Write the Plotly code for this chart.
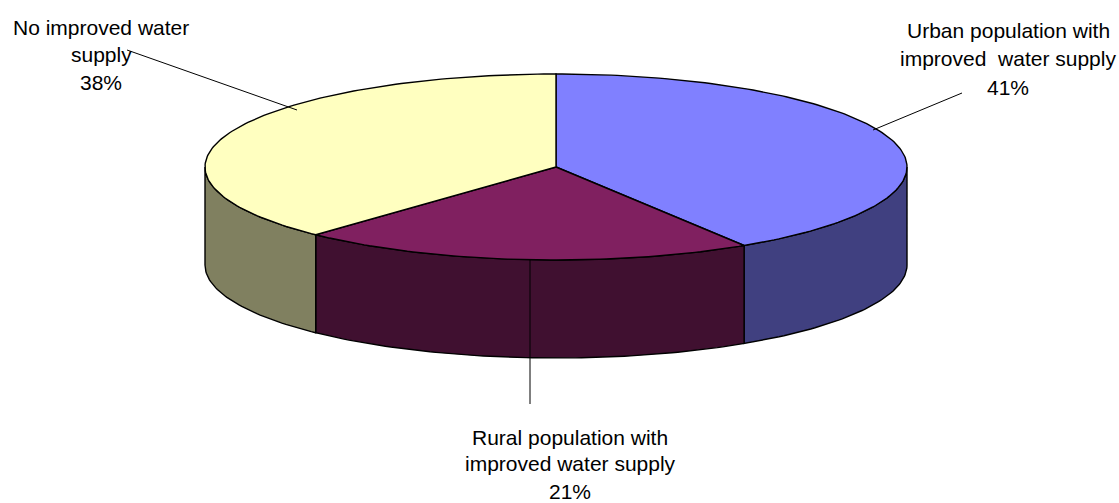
import math
import plotly.graph_objects as go

# Share of population by water supply access
categories = ["Urban population with improved  water supply",
              "Rural population with improved water supply",
              "No improved water supply"]
shares = [41, 21, 38]
pct_labels = ["41%", "21%", "38%"]

top_colors = ["#8080FF", "#802060", "#FFFFC0"]
side_colors = ["#404080", "#401030", "#808060"]

# Geometry of the tilted pie (screen pixels, y grows downward)
CX, CY = 556, 167
RX, RY = 351, 93
DEPTH = 98
W, H = 1119, 503


def pt(theta_deg, dz=0.0):
    t = math.radians(theta_deg)
    return CX + RX * math.sin(t), CY - RY * math.cos(t) + dz


def arc(a, b, dz=0.0, step=1.0):
    n = max(2, int(abs(b - a) / step) + 1)
    pts = [pt(a + (b - a) * i / (n - 1), dz) for i in range(n)]
    return [p[0] for p in pts], [p[1] for p in pts]


# Slice angles measured clockwise from 12 o'clock
total = sum(shares)
bounds = []
acc = 0.0
for v in shares:
    start = acc / total * 360
    acc += v
    bounds.append((start, acc / total * 360))

fig = go.Figure()
outline = dict(color="black", width=1.4)

# Visible outer walls (front half: 90..270 degrees)
for (a, b), col in zip(bounds, side_colors):
    lo, hi = max(a, 90), min(b, 270)
    if lo >= hi:
        continue
    tx, ty = arc(lo, hi)
    bx, by = arc(hi, lo, DEPTH)
    fig.add_trace(go.Scatter(x=tx + bx + [tx[0]], y=ty + by + [ty[0]],
                             mode="lines", fill="toself", fillcolor=col,
                             line=outline, hoverinfo="skip", showlegend=False))

# Top faces
for (a, b), col in zip(bounds, top_colors):
    ax_, ay_ = arc(a, b)
    fig.add_trace(go.Scatter(x=[CX] + ax_ + [CX], y=[CY] + ay_ + [CY],
                             mode="lines", fill="toself", fillcolor=col,
                             line=outline, hoverinfo="skip", showlegend=False))

font = dict(family="Liberation Sans, Arial, sans-serif", size=21, color="black")

# Leader lines
leaders = [
    ((873, 130), (962, 93)),
    ((530, 260), (530, 404)),
    ((297, 110), (127, 50)),
]
for (x0, y0), (x1, y1) in leaders:
    fig.add_shape(type="line", x0=x0, y0=y0, x1=x1, y1=y1, xref="x", yref="y",
                  line=dict(color="black", width=1))

# Labels, one line per annotation
label_lines = [
    (1008, [(30, "Urban population with"), (58, "improved  water supply"), (87, pct_labels[0])]),
    (570, [(437, "Rural population with"), (463, "improved water supply"), (491, pct_labels[1])]),
    (101, [(27, "No improved water"), (54, "supply"), (82, pct_labels[2])]),
]
for x, lines in label_lines:
    for y, txt in lines:
        fig.add_annotation(x=x, y=y, xref="x", yref="y", text=txt, showarrow=False,
                           font=font, xanchor="center", yanchor="middle")

fig.update_layout(
    width=W, height=H,
    margin=dict(l=0, r=0, t=0, b=0),
    paper_bgcolor="white", plot_bgcolor="white",
    xaxis=dict(range=[0, W], visible=False, fixedrange=True),
    yaxis=dict(range=[H, 0], visible=False, fixedrange=True),
)

fig.write_html("out.html")
